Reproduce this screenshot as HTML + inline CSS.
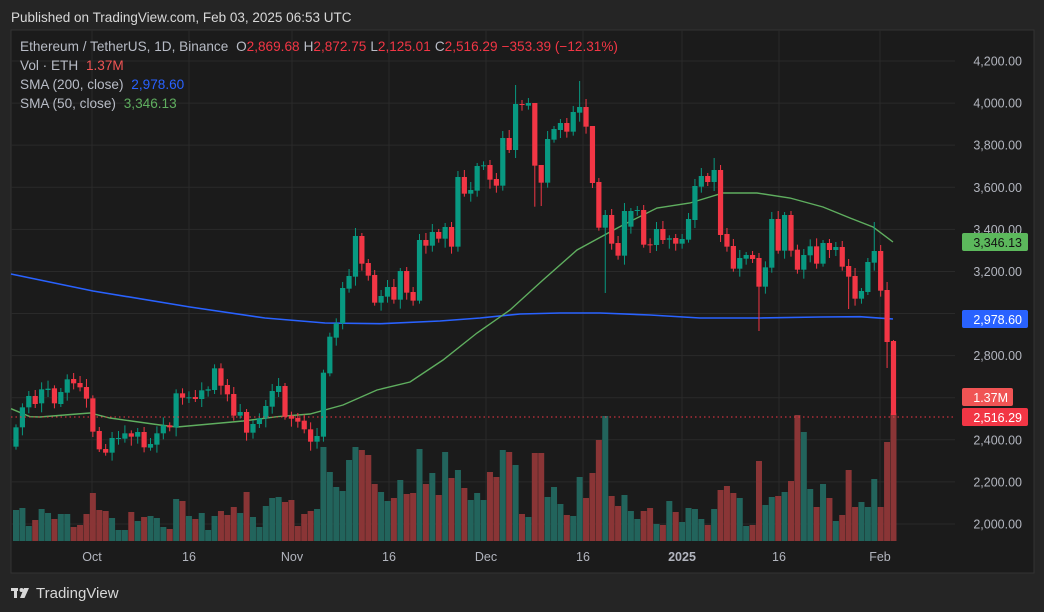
<!DOCTYPE html>
<html><head><meta charset="utf-8"><style>
html,body{margin:0;padding:0;background:#252525;width:1044px;height:612px;overflow:hidden;font-family:"Liberation Sans",sans-serif}
#c{position:absolute;left:0;top:0}
</style></head><body>
<svg id="c" width="1044" height="612" xmlns="http://www.w3.org/2000/svg" font-family="Liberation Sans, sans-serif">
<rect x="0" y="0" width="1044" height="612" fill="#252525"/>
<rect x="11" y="30" width="1023" height="543" fill="#1b1b1b" stroke="#333" stroke-width="1"/>
<g id="grid" stroke="#2a2a2a" stroke-width="1"></g>
<g id="vol"></g>
<polyline id="s200" fill="none" stroke="#2962ff" stroke-width="1.6"/>
<polyline id="s50" fill="none" stroke="#5fae5f" stroke-width="1.4"/>
<g id="cand"></g>
<line x1="11" y1="417" x2="955" y2="417" stroke="#f23645" stroke-width="1" stroke-dasharray="1.5,3"/>
<g id="axis" fill="#b2b5be" font-size="12.5"></g>
<rect x="962" y="233" width="66" height="18" rx="2" fill="#5cb85c"/>
<text x="1022" y="247" text-anchor="end" font-size="12.5" fill="#131313">3,346.13</text>
<rect x="962" y="310" width="66" height="18" rx="2" fill="#2962ff"/>
<text x="1022" y="324" text-anchor="end" font-size="12.5" fill="#fff">2,978.60</text>
<rect x="962" y="388" width="51" height="18" rx="2" fill="#f05454"/>
<text x="1008" y="402" text-anchor="end" font-size="12.5" fill="#fff">1.37M</text>
<rect x="962" y="408" width="66" height="18" rx="2" fill="#f23645"/>
<text x="1022" y="422" text-anchor="end" font-size="12.5" fill="#fff">2,516.29</text>
<text x="11" y="22" font-size="13.5" fill="#d8d8d8">Published on TradingView.com, Feb 03, 2025 06:53 UTC</text>
<text x="20" y="51" font-size="13.6" fill="#b8bcc6">Ethereum / TetherUS, 1D, Binance <tspan dx="4">O</tspan><tspan fill="#f23645">2,869.68</tspan><tspan dx="4">H</tspan><tspan fill="#f23645">2,872.75</tspan><tspan dx="4">L</tspan><tspan fill="#f23645">2,125.01</tspan><tspan dx="4">C</tspan><tspan fill="#f23645">2,516.29</tspan><tspan dx="4" fill="#f23645">−353.39 (−12.31%)</tspan></text>
<text x="20" y="70" font-size="13.6" fill="#b8bcc6">Vol · ETH <tspan dx="4" fill="#f05454">1.37M</tspan></text>
<text x="20" y="89" font-size="13.6" fill="#b8bcc6">SMA (200, close) <tspan dx="4" fill="#2962ff">2,978.60</tspan></text>
<text x="20" y="108" font-size="13.6" fill="#b8bcc6">SMA (50, close) <tspan dx="4" fill="#5fae5f">3,346.13</tspan></text>
<g transform="translate(11,586)" fill="#d8d8d8"><rect x="0" y="2" width="7" height="3"/><rect x="3" y="2" width="3" height="10"/><circle cx="10.5" cy="4" r="2"/><polygon points="13,2 18,2 13.5,12 9,12"/></g>
<text x="36" y="598" font-size="15" fill="#d8d8d8">TradingView</text>
</svg>
<script>
const NS="http://www.w3.org/2000/svg";
function el(p,t,a){const e=document.createElementNS(NS,t);for(const k in a)e.setAttribute(k,a[k]);p.appendChild(e);return e;}
const G=document.getElementById('grid'),A=document.getElementById('axis');
const py=p=>61+(4200-p)*0.21045;
for(let p=2000;p<=4200;p+=200){const y=py(p);el(G,'line',{x1:11,x2:955,y1:y,y2:y});
 if(p!==3000&&p!==2600){const t=el(A,'text',{x:1022,y:y+4.5,'text-anchor':'end'});t.textContent=p.toLocaleString('en-US')+'.00';}}
[[92,'Oct'],[189,'16'],[292,'Nov'],[389,'16'],[486,'Dec'],[583,'16'],[682,'2025'],[779,'16'],[880,'Feb']].forEach(([x,s])=>{
 el(G,'line',{x1:x,x2:x,y1:30,y2:541});const t=el(A,'text',{x:x,y:561,'text-anchor':'middle'});t.textContent=s;if(s==='2025')t.setAttribute('font-weight','bold');});
const z4=[[232,290,'g'],[172,232,'g'],[138,172,'g'],[138,162,'r'],[118,160,'g'],[116,120,'g'],[115,160,'r'],[126,162,'g'],[88,128,'g'],[87,100,'r'],[99,112,'r'],[111,146,'r'],[145,245,'r'],[243,298,'r'],[297,308,'r'],[264,308,'g'],[264,266,'g'],[250,266,'g'],[250,260,'r'],[246,260,'g'],[246,292,'r'],[282,293,'g'],[250,284,'g'],[226,250,'g'],[226,232,'r'],[130,232,'g'],[130,143,'r'],[142,144,'g'],[141,147,'r'],[121,147,'g'],[118,122,'g'],[55,120,'g'],[55,107,'r'],[105,133,'r'],[132,197,'r'],[186,197,'g'],[186,248,'r'],[222,248,'g'],[205,222,'g'],[168,205,'g'],[123,170,'g'],[108,126,'g'],[108,200,'r'],[197,206,'r'],[204,215,'r'],[212,238,'r'],[238,275,'r'],[258,275,'g']].map(c=>[350+c[0]/3,350+c[1]/3,c[2]]);
const z5=[[878,1070,'g'],[770,880,'g'],[730,773,'g'],[624,730,'g'],[588,626,'g'],[468,590,'g'],[468,551,'r'],[549,587,'r'],[585,668,'r'],[648,668,'g'],[621,650,'g'],[621,659,'r'],[573,659,'g'],[573,638,'r'],[636,662,'r'],[480,662,'g'],[480,497,'r'],[456,497,'g'],[456,476,'r'],[441,476,'g'],[441,500,'r'],[291,500,'g'],[291,341,'r'],[330,341,'g'],[258,332,'g'],[256,258,'g'],[255,299,'r'],[297,317,'r'],[174,317,'g'],[174,210,'r'],[72,210,'g'],[72,74,'r'],[69,77,'g'],[69,257,'r'],[255,308,'r'],[177,308,'g'],[147,179,'g'],[129,150,'g'],[129,155,'r'],[96,155,'g'],[81,98,'g'],[81,140,'r'],[138,309,'r'],[306,443,'r']].map(c=>[80+c[0]/3,80+c[1]/3,c[2]]);
const z6=[[195,233,'g'],[195,281,'r'],[279,317,'r'],[183,317,'g'],[183,230,'g'],[180,182,'g'],[180,284,'r'],[283,285,'r'],[237,285,'g'],[237,270,'r'],[265,269,'g'],[264,281,'r'],[267,281,'g'],[207,269,'g'],[108,210,'g'],[78,110,'g'],[78,96,'r'],[60,96,'g'],[60,255,'r'],[252,290,'r'],[288,356,'r'],[324,356,'g'],[315,326,'g'],[315,327,'r'],[324,410,'r'],[352,410,'g'],[207,353,'g'],[207,302,'r'],[195,302,'g'],[195,302,'r'],[299,359,'r'],[315,359,'g'],[289,316,'g'],[289,341,'r'],[279,341,'g'],[279,300,'r'],[291,300,'g'],[291,350,'r'],[348,380,'r'],[378,446,'r'],[423,446,'g'],[336,426,'g'],[303,338,'g'],[303,422,'r']].map(c=>[150+c[0]/3,150+c[1]/3,c[2]]);
const C=[...z4,...z5,...z6,[290,342,'r'],[341,415,'r']];
const hi={12:437,81:206.7,82:206,90:163,92:293,116:331,109:158,78:85,88:81,130:309,135:245,134:222,136:282,137:498,4:352,13:452,33:364,48:368};
const lowv={12:437,81:206.7,82:206,92:293,116:331,130:309,137:498,13:452,136:368};
const vt=[300,294,348,330,297,309,327,312,312,351,345,312,249,300,303,324,360,360,306,333,321,318,324,351,357,267,273,318,327,309,360,318,303,315,291,309,246,321,351,288,264,261,276,270,348,312,303,297,111,186,231,243,150,111,120,135,222,246,273,264,210,252,249,117,222,189,255,126,204,180,234,270,249,270,186,201,120,126,165,312,321,129,129,261,231,282,315,318,201,264,189,90,18,258,288,255,303,327,303,294,342,345,273,306,336,294,297,327,345,297,240,228,249,264,348,345,153,285,261,258,246,213,15,66,237,291,222,264,333,315,180,291,276,291,207,291,96,10];
const V=document.getElementById('vol'),K=document.getElementById('cand');
C.forEach((c,i)=>{const x=16+i*6.405;const col=c[2]==='g'?'#089981':'#f23645';
 const vc=c[2]==='g'?'#22645c':'#8a3536';const vy=410+vt[i]/3;
 el(V,'rect',{x:x-3,y:vy,width:6,height:541-vy,fill:vc});
 let top=c[0],bot=c[1];
 let h=top-3-((i*7)%6),l=bot+3+((i*5)%7);
 if(i in lowv){l=Math.max(lowv[i],bot);}
 if([81,82,90,109,78,88,135,134,136].includes(i)){h=Math.min(hi[i],top);}
 if(i===137){h=top-1;l=bot;}
 el(K,'line',{x1:x,x2:x,y1:h,y2:l,stroke:col,'stroke-width':1});
 el(K,'rect',{x:x-2.6,y:top,width:5.2,height:Math.max(1,bot-top),fill:col});
});
const s200=[[11,274],[93,291],[190,307],[265,318],[325,323],[380,323.7],[440,321],[480,318],[520,314],[560,313],[600,313],[650,315],[700,318],[760,318],[820,317],[860,316.7],[893,319]];
const s50=[[11,408.7],[30,416.7],[40,417],[77,414],[90,413],[110,418],[160,425],[177,427],[210,424],[243,421],[277,416.7],[310,414],[343,405],[377,390],[410,382],[443,360],[477,333],[510,310],[543,280],[577,250],[610,232],[623,225],[657,208],[690,203],[723,193],[757,193],[790,198],[823,207],[850,218],[873,227],[893,242]];
document.getElementById('s200').setAttribute('points',s200.map(p=>p.join(',')).join(' '));
document.getElementById('s50').setAttribute('points',s50.map(p=>p.join(',')).join(' '));
</script>
</body></html>
